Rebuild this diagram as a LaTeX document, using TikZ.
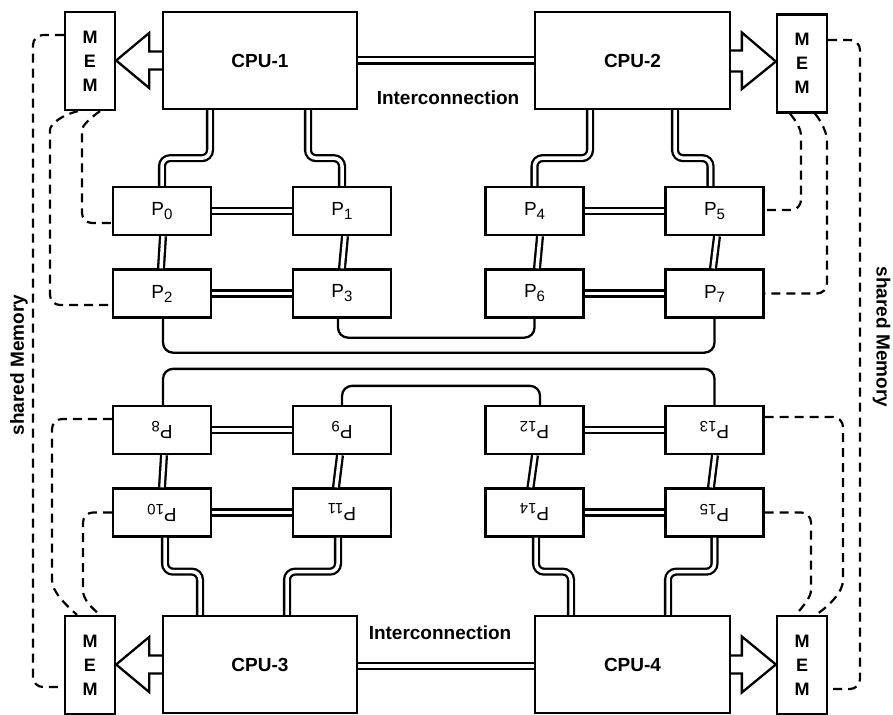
\documentclass[tikz,border=0pt]{standalone}
\usepackage{fontspec}
\setmainfont{Liberation Sans}
\usepackage{graphicx}
\usetikzlibrary{calc}
\newcommand\psub[1]{\raisebox{-4pt}{\fontsize{15}{15}\selectfont #1}}
\newcommand\plabel[1]{P\psub{#1}}
\newcommand\dlabel[1]{\rotatebox{180}{P\psub{#1}}}
\tikzset{
 box/.style={draw, line width=2.3pt, inner sep=0pt, fill=white},
 cpubox/.style={box, minimum width=194pt, minimum height=97pt, font=\fontsize{19}{22}\selectfont\bfseries},
 membox/.style={box, minimum width=50pt, minimum height=98pt, align=center, font=\fontsize{18}{24}\selectfont\bfseries},
 pbox/.style={box, minimum width=98pt, minimum height=48pt, font=\fontsize{19}{20}\selectfont},
 dbl/.style={draw, double, line width=2.3pt, double distance=3.5pt, rounded corners=8pt},
 dblic/.style={draw, double, line width=2.4pt, double distance=4pt},
 link/.style={draw, line width=2.3pt, rounded corners=10pt},
 shared/.style={draw, line width=2.2pt, dash pattern=on 9pt off 6pt, rounded corners=10pt},
 blk/.style={draw, line width=2.3pt, fill=white, line join=miter},
 lbl/.style={font=\fontsize{19}{22}\selectfont\bfseries, inner sep=0pt}
}
\begin{document}
\begin{tikzpicture}[x=1pt,y=-1pt]
\useasboundingbox (0,0) rectangle (893,714);
\clip (0,0) rectangle (893,714);
\fill[white] (0,0) rectangle (893,714);

% CPUs
\node[cpubox] (cpu1) at (260,60.5) {CPU-1};
\node[cpubox, minimum width=195pt] (cpu2) at (632.5,60.5) {CPU-2};
\node[cpubox] (cpu3) at (260,664.5) {CPU-3};
\node[cpubox, minimum width=195pt] (cpu4) at (632.5,664.5) {CPU-4};

% memories
\node[membox] (mem1) at (90,61) {M\\E\\M};
\node[membox] (mem2) at (802,63.5) {M\\E\\M};
\node[membox] (mem3) at (90,665) {M\\E\\M};
\node[membox] (mem4) at (802,665) {M\\E\\M};

% processors, upper half
\node[pbox] (p0) at (162,211) {\plabel{0}};
\node[pbox] (p1) at (342,211) {\plabel{1}};
\node[pbox] (p4) at (534.5,211) {\plabel{4}};
\node[pbox] (p5) at (714.5,211) {\plabel{5}};
\node[pbox] (p2) at (162,293.5) {\plabel{2}};
\node[pbox] (p3) at (342,293.5) {\plabel{3}};
\node[pbox] (p6) at (534.5,293.5) {\plabel{6}};
\node[pbox] (p7) at (714.5,293.5) {\plabel{7}};

% processors, lower half (upside down)
\node[pbox] (p8) at (162,430) {\dlabel{8}};
\node[pbox] (p9) at (342,430) {\dlabel{9}};
\node[pbox] (p12) at (534.5,430) {\dlabel{12}};
\node[pbox] (p13) at (714.5,430) {\dlabel{13}};
\node[pbox] (p10) at (162,512.5) {\dlabel{10}};
\node[pbox] (p11) at (342,512.5) {\dlabel{11}};
\node[pbox] (p14) at (534.5,512.5) {\dlabel{14}};
\node[pbox] (p15) at (714.5,512.5) {\dlabel{15}};

% interconnections between CPUs
\draw[dblic] (cpu1.east) -- (cpu2.west);
\draw[dblic] ([yshift=-1.5pt]cpu3.east) -- ([yshift=-1.5pt]cpu4.west);
\node[lbl] (ic1) at (448,98) {Interconnection};
\node[lbl] (ic2) at (440,633) {Interconnection};

% CPU to processor links
\draw[dbl] ([xshift=-50pt]cpu1.south) -- ++(0,48) -| (p0.north);
\draw[dbl] ([xshift=48pt]cpu1.south) -- ++(0,48) -| (p1.north);
\draw[dbl] ([xshift=-42.5pt]cpu2.south) -- ++(0,48) -| (p4.north);
\draw[dbl] ([xshift=42.5pt]cpu2.south) -- ++(0,48) -| ([xshift=-4pt]p5.north);
\draw[dbl] ([xshift=3pt]p10.south) -- ++(0,34) -| ([xshift=-60pt]cpu3.north);
\draw[dbl] ([xshift=-4pt]p11.south) -- ++(0,34) -| ([xshift=27pt]cpu3.north);
\draw[dbl] ([xshift=1.5pt]p14.south) -- ++(0,34) -| ([xshift=-61.5pt]cpu4.north);
\draw[dbl] (p15.south) -- ++(0,34) -| ([xshift=35.5pt]cpu4.north);

% processor mesh
\draw[dbl] (p0.east) -- (p1.west);
\draw[dbl] (p2.east) -- (p3.west);
\draw[dbl] (p4.east) -- (p5.west);
\draw[dbl] (p6.east) -- (p7.west);
\draw[dbl] (p8.east) -- (p9.west);
\draw[dbl] (p10.east) -- (p11.west);
\draw[dbl] (p12.east) -- (p13.west);
\draw[dbl] (p14.east) -- (p15.west);
\draw[dbl] ([xshift=1pt]p0.south) -- ([xshift=-1pt]p2.north);
\draw[dbl] ([xshift=3pt]p1.south) -- (p3.north);
\draw[dbl] ([xshift=5.5pt]p4.south) -- ([xshift=2.5pt]p6.north);
\draw[dbl] ([xshift=2.5pt]p5.south) -- ([xshift=-1.5pt]p7.north);
\draw[dbl] ([xshift=2pt]p8.south) -- (p10.north);
\draw[dbl] ([xshift=-2pt]p9.south) -- ([xshift=-6pt]p11.north);
\draw[dbl] ([xshift=0.5pt]p12.south) -- ([xshift=-4pt]p14.north);
\draw[dbl] ([xshift=0.5pt]p13.south) -- ([xshift=-3.5pt]p15.north);

% single links between halves
\draw[link] ([xshift=-4pt]p3.south) -- ++(0,19) -| (p6.south);
\draw[link] ([xshift=1pt]p2.south) -- ++(0,34) -| (p7.south);
\draw[link] ([xshift=1pt]p8.north) -- ++(0,-36) -| (p13.north);
\draw[link] (p9.north) -- ++(0,-19) -| ([xshift=5.5pt]p12.north);

% block arrows CPU -> MEM
\draw[blk] ($(cpu1.west)+(0,-9)$) -- ($(mem1.east |- cpu1.west)+(33,-9)$) -- ($(mem1.east |- cpu1.west)+(33,-27.5)$) -- (mem1.east |- cpu1.west) -- ($(mem1.east |- cpu1.west)+(33,27.5)$) -- ($(mem1.east |- cpu1.west)+(33,9)$) -- ($(cpu1.west)+(0,9)$);
\draw[blk] ($(cpu2.east)+(0,-10)$) -- ($(mem2.west |- cpu2.east)+(-34,-10)$) -- ($(mem2.west |- cpu2.east)+(-34,-28)$) -- ($(mem2.west |- cpu2.east)+(0,1)$) -- ($(mem2.west |- cpu2.east)+(-34,28.5)$) -- ($(mem2.west |- cpu2.east)+(-34,11)$) -- ($(cpu2.east)+(0,11)$);
\draw[blk] ($(cpu3.west)+(0,-9)$) -- ($(mem3.east |- cpu3.west)+(33,-9)$) -- ($(mem3.east |- cpu3.west)+(33,-27.5)$) -- (mem3.east |- cpu3.west) -- ($(mem3.east |- cpu3.west)+(33,27.5)$) -- ($(mem3.east |- cpu3.west)+(33,9)$) -- ($(cpu3.west)+(0,9)$);
\draw[blk] ($(cpu4.east)+(0,-9)$) -- ($(mem4.west |- cpu4.east)+(-34,-9)$) -- ($(mem4.west |- cpu4.east)+(-34,-28)$) -- (mem4.west |- cpu4.east) -- ($(mem4.west |- cpu4.east)+(-34,28)$) -- ($(mem4.west |- cpu4.east)+(-34,9)$) -- ($(cpu4.east)+(0,9)$);

% shared memory (dashed)
\draw[shared] ($(mem1.west)+(0,-26)$) -- (33,35) -- (33,687) -- ($(mem3.west)+(0,22)$);
\draw[shared] ($(mem1.south)+(-12,0)$) .. controls (62,115) and (50,124) .. (50,140) -- (50,305) -- ($(p2.west)+(0,11.5)$);
\draw[shared] ($(mem1.south)+(10,0)$) .. controls (90,118) and (82,126) .. (82,140) -- (82,223) -- ($(p0.west)+(0,12)$);
\draw[shared] ($(p8.west)+(0,-11)$) -- (52,419) -- (52,570) .. controls (52,592) and (66,605) .. ($(mem3.north)+(-13,0)$);
\draw[shared] (p10.west) -- (83,512.5) -- (83,580) .. controls (83,600) and (92,608) .. ($(mem3.north)+(10,0)$);
\draw[shared] ($(mem2.east)+(0,-23.5)$) -- (860,40) -- (860,689) -- ($(mem4.east)+(0,24)$);
\draw[shared] ($(mem2.south)+(-12,0)$) .. controls (797,122) and (801,130) .. (801,145) -- (801,210) -- ($(p5.east)+(0,-1)$);
\draw[shared] ($(mem2.south)+(13,0)$) .. controls (822,122) and (827,134) .. (827,150) -- (827,293.5) -- (p7.east);
\draw[shared] ($(p13.east)+(0,-13)$) -- (843,417) -- (843,570) .. controls (843,592) and (830,605) .. ($(mem4.north)+(14,0)$);
\draw[shared] (p15.east) -- (811,512.5) -- (811,580) .. controls (811,598) and (802,607) .. ($(mem4.north)+(-6,0)$);

\node[lbl, rotate=90] (sm1) at (19,365) {shared Memory};
\node[lbl, rotate=-90] (sm2) at (881.5,337) {shared Memory};
\end{tikzpicture}
\end{document}
